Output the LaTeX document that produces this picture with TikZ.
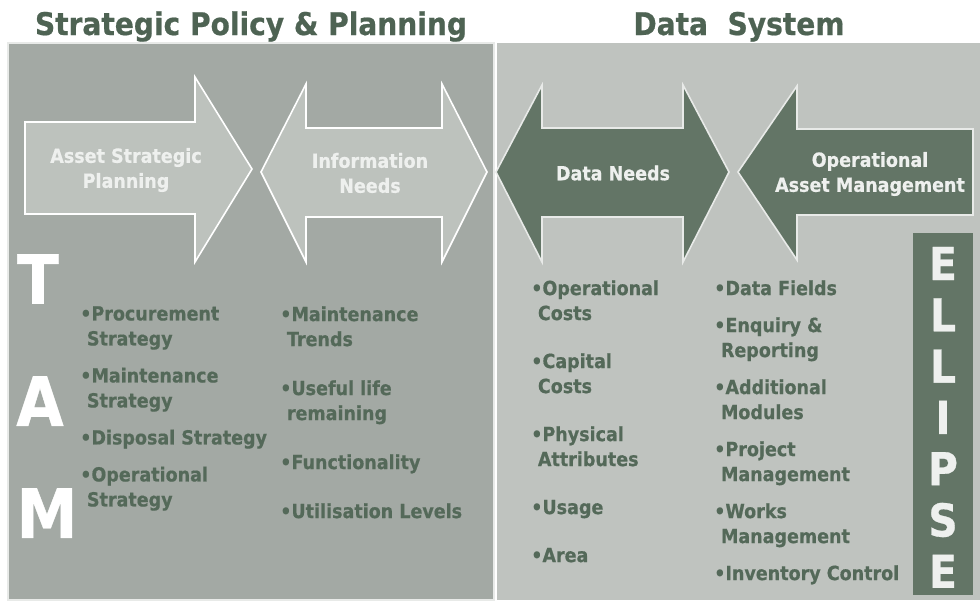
\documentclass[tikz,border=0pt]{standalone}
\usepackage{fontspec}
\setmainfont{DejaVu Sans}[FakeStretch=0.9, BoldFeatures={FakeBold=0.6}]
\definecolor{myPanelA}{RGB}{163,169,164}
\definecolor{myPanelB}{RGB}{191,195,191}
\definecolor{myArrowA}{RGB}{189,194,189}
\definecolor{myArrowB}{RGB}{99,117,102}
\definecolor{myText}{RGB}{84,105,89}
\definecolor{myTitle}{RGB}{78,99,83}
\definecolor{myLight}{RGB}{238,240,238}
\usetikzlibrary{positioning}
\newcommand{\ind}{\hspace*{5pt}}

\begin{document}
\begin{tikzpicture}[x=0.75pt, y=-0.75pt,
  lightarrow/.style={fill=myArrowA, draw=white, line width=1.2pt},
  darkarrow/.style={fill=myArrowB, draw=white!85!myArrowB, line width=1.2pt},
  title/.style={text=myTitle, anchor=base, font=\fontsize{23.4}{28}\selectfont\bfseries},
  label/.style={text=myLight, align=center, font=\fontsize{14.6}{18.75}\selectfont\bfseries},
  list/.style={text=myText, align=left, anchor=north west, inner sep=0pt,
               font=\fontsize{14.6}{18.75}\selectfont\bfseries},
  big/.style={text=white, font=\fontsize{51}{51}\selectfont\bfseries},
  tall/.style={text=myLight, font=\fontsize{34}{34}\selectfont\bfseries}]
  \fill[white] (0,0) rectangle (980,600);
  \useasboundingbox (0,0) rectangle (980,600);
  % panels
  \filldraw[fill=myPanelA, draw=white!75!myPanelA, line width=0.8pt] (8,43) rectangle (494,600);
  \fill[myPanelB] (497,43) rectangle (980,600);
  \node[title] (tspp) at (251,35) {Strategic Policy \& Planning};
  \node[title] (tds) at (739,35) {Data\ \ System};
  % arrows
  \draw[lightarrow] (25,122) -- (195,122) -- (195,77) -- (252,169) -- (195,262)
    -- (195,214) -- (25,214) -- cycle;
  \draw[lightarrow] (261,172) -- (306,84) -- (306,128) -- (442,128) -- (442,84)
    -- (487,172) -- (442,262) -- (442,217) -- (306,217) -- (306,262) -- cycle;
  \draw[darkarrow] (496,172) -- (542,85) -- (542,128) -- (683,128) -- (683,85)
    -- (729,172) -- (683,262) -- (683,217) -- (542,217) -- (542,262) -- cycle;
  \draw[darkarrow] (738,172) -- (797,86) -- (797,129) -- (973,129) -- (973,215)
    -- (797,215) -- (797,260) -- cycle;
  \node[label] (asp) at (126,170) {Asset Strategic\\Planning};
  \node[label] (inn) at (370,173) {Information\\Needs};
  \node[label] (dn) at (613,173) {Data Needs};
  \node[label] (oam) at (870,174) {Operational\\Asset Management};
  % TAM
  \node[big] (tamt) at (38,279) {T};
  \node[big] (tama) at (40,401) {A};
  \node[big] (tamm) at (47,513) {M};
  % ELLIPSE
  \fill[myArrowB] (913,233) rectangle (973,595);
  \foreach \ch [count=\i from 0] in {E,L,L,I,P,S,E}
    \node[tall] (ell\i) at (943,263.5+51.3*\i) {\ch};
  % lists
  \node[list] (spp) at (80,306) {\textbullet Procurement\\\ind Strategy\\[9pt]
    \textbullet Maintenance\\\ind Strategy\\[9pt]
    \textbullet Disposal Strategy\\[9pt]
    \textbullet Operational\\\ind Strategy};
  \node[list] (info) at (280,306) {\textbullet Maintenance\\\ind Trends\\[18pt]
    \textbullet Useful life\\\ind remaining\\[18pt]
    \textbullet Functionality\\[18pt]
    \textbullet Utilisation Levels};
  \node[list] (need) at (531,280) {\textbullet Operational\\\ind Costs\\[17.25pt]
    \textbullet Capital\\\ind Costs\\[17.25pt]
    \textbullet Physical\\\ind Attributes\\[17.25pt]
    \textbullet Usage\\[17.25pt]
    \textbullet Area};
  \node[list] (oper) at (714,280) {\textbullet Data Fields\\[9pt]
    \textbullet Enquiry \&\\\ind Reporting\\[9pt]
    \textbullet Additional\\\ind Modules\\[9pt]
    \textbullet Project\\\ind Management\\[9pt]
    \textbullet Works\\\ind Management\\[9pt]
    \textbullet Inventory Control};
\end{tikzpicture}
\end{document}
